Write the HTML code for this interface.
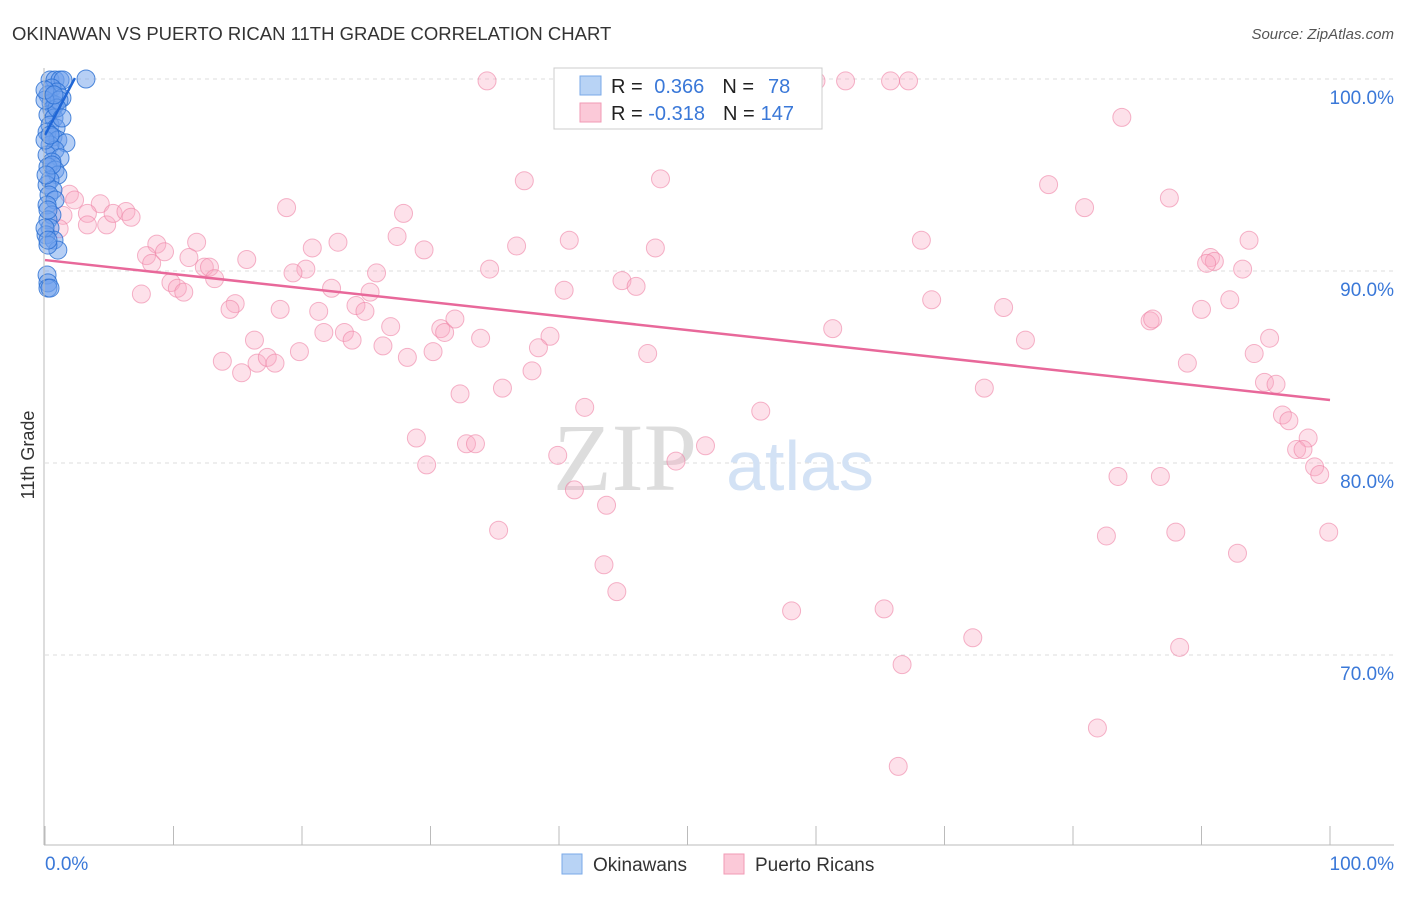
<!DOCTYPE html>
<html><head><meta charset="utf-8"><style>
body{margin:0;background:#fff;font-family:"Liberation Sans",sans-serif}
svg text{font-family:"Liberation Sans",sans-serif}
</style></head><body>
<svg id="c" width="1406" height="892">
<text x="12" y="40" font-size="18.5" fill="#333">OKINAWAN VS PUERTO RICAN 11TH GRADE CORRELATION CHART</text>
<text x="1394" y="39" font-size="15" fill="#555" text-anchor="end" font-style="italic">Source: ZipAtlas.com</text>
<text x="34" y="455" font-size="18" fill="#333" transform="rotate(-90 34 455)" text-anchor="middle">11th Grade</text>
<g id="grid"></g>
<g id="yt"></g>
<text x="625" y="490" font-size="96" fill="#ddd" text-anchor="middle" style="font-family:'Liberation Serif'">ZIP</text>
<text x="800" y="490" font-size="70" fill="#d3e2f5" text-anchor="middle">atlas</text>
<g id="pts"></g>
<g id="axes"></g>
<g>
<rect x="554" y="68" width="268" height="61" fill="#fff" stroke="#ccc"/>
<rect x="580" y="76" width="21" height="19" fill="#b8d3f5" stroke="#7aaae8"/>
<rect x="580" y="103" width="21" height="19" fill="#fbc9d8" stroke="#f29ab5"/>
<text x="611" y="93" font-size="20" fill="#222">R = <tspan fill="#3a78d8" dx="6">0.366</tspan><tspan dx="18" fill="#222">N =</tspan><tspan fill="#3a78d8" dx="14">78</tspan></text>
<text x="611" y="120" font-size="20" fill="#222">R = <tspan fill="#3a78d8">-0.318</tspan><tspan dx="18" fill="#222">N =</tspan><tspan fill="#3a78d8" dx="6">147</tspan></text>
</g>
<g>
<rect x="562" y="854" width="20" height="20" fill="#b8d3f5" stroke="#7aaae8"/>
<text x="593" y="871" font-size="19" fill="#333">Okinawans</text>
<rect x="724" y="854" width="20" height="20" fill="#fbc9d8" stroke="#f29ab5"/>
<text x="755" y="871" font-size="19" fill="#333">Puerto Ricans</text>
</g>
<text x="45" y="870" font-size="19" fill="#3a78d8">0.0%</text>
<text x="1394" y="870" font-size="19" fill="#3a78d8" text-anchor="end">100.0%</text>
</svg>
<script>
const yTicks=[100,90,80,70];
const yTickLabels=["100.0%","90.0%","80.0%","70.0%"];
const xTicks=[0,10,20,30,40,50,60,70,80,90,100];
const pinkX=[34.4,48.0,59.6,60.0,62.3,65.8,67.2,46.5,83.8,37.3,47.9,78.1,87.5,80.9,18.8,27.9,1.9,2.3,4.3,1.4,3.3,4.8,5.3,6.3,6.7,3.3,1.1,68.2,93.7,40.8,36.7,47.5,27.4,22.8,20.8,29.5,8.7,11.8,7.9,8.3,9.3,11.2,15.7,12.4,12.8,90.7,91.0,90.4,93.2,34.6,20.3,19.3,25.8,13.2,9.8,10.3,10.8,7.5,44.9,46.0,40.4,22.3,25.3,14.8,14.4,18.3,21.3,24.2,24.9,69.0,74.6,90.0,92.2,31.9,86.0,86.2,26.9,30.8,31.1,21.7,23.3,23.9,33.9,39.3,61.3,76.3,95.3,16.3,26.3,19.8,30.2,38.4,46.9,94.1,28.2,13.8,16.5,17.3,17.9,15.3,37.9,88.9,94.9,95.8,35.6,32.3,73.1,42.0,55.7,96.3,96.8,28.9,32.8,33.5,51.4,98.3,97.4,97.9,39.9,49.1,29.7,98.8,99.2,83.5,86.8,41.2,43.7,35.3,82.6,88.0,99.9,92.8,43.5,44.5,58.1,65.3,72.2,88.3,66.7,81.9,66.4];
const pinkY=[99.9,99.9,99.9,99.9,99.9,99.9,99.9,99.1,98.0,94.7,94.8,94.5,93.8,93.3,93.3,93.0,94.0,93.7,93.5,92.9,93.0,92.4,93.0,93.1,92.8,92.4,92.2,91.6,91.6,91.6,91.3,91.2,91.8,91.5,91.2,91.1,91.4,91.5,90.8,90.4,91.0,90.7,90.6,90.2,90.2,90.7,90.5,90.4,90.1,90.1,90.1,89.9,89.9,89.6,89.4,89.1,88.9,88.8,89.5,89.2,89.0,89.1,88.9,88.3,88.0,88.0,87.9,88.2,87.9,88.5,88.1,88.0,88.5,87.5,87.4,87.5,87.1,87.0,86.8,86.8,86.8,86.4,86.5,86.6,87.0,86.4,86.5,86.4,86.1,85.8,85.8,86.0,85.7,85.7,85.5,85.3,85.2,85.5,85.2,84.7,84.8,85.2,84.2,84.1,83.9,83.6,83.9,82.9,82.7,82.5,82.2,81.3,81.0,81.0,80.9,81.3,80.7,80.7,80.4,80.1,79.9,79.8,79.4,79.3,79.3,78.6,77.8,76.5,76.2,76.4,76.4,75.3,74.7,73.3,72.3,72.4,70.9,70.4,69.5,66.2,64.2];
const blueX=[0.39,0.78,1.17,1.4,3.19,0.54,0.93,0.23,1.32,0.47,0.78,1.09,0.54,0.23,0.7,0.39,0.86,0.16,0.62,1.0,1.63,0.39,0.78,0.16,1.17,0.54,0.23,0.78,1.0,0.39,0.16,0.62,0.31,0.78,0.16,0.54,0.23,0.39,0.08,0.7,1.0,0.23,0.16,0.23,0.23,0.39,0,0.23,0.54,0.93,0,0,0.08,0.39,0,1.32,0.7,0.23];
const blueY=[99.95,99.95,99.95,99.95,100,99.53,99.32,99.17,99.01,98.75,98.65,98.9,98.39,98.13,97.97,97.6,97.45,97.24,96.98,96.82,96.67,96.56,96.3,96.04,95.89,95.68,95.42,95.26,95.0,94.74,94.48,94.22,93.96,93.7,93.44,92.92,92.66,92.24,91.88,91.61,91.09,91.35,89.79,89.38,89.11,89.11,92.24,93.18,95.52,98.49,98.9,96.82,95.0,97.08,99.43,97.97,99.17,91.61];
const pinkTrend=[[0,90.57],[100,83.28]];
const blueTrend=[[0,97.08],[2.33,100.05]];
const NS="http://www.w3.org/2000/svg";
const X=v=>45+v*12.85, Y=v=>79+(100-v)*19.2;
function mk(t,a,p){const e=document.createElementNS(NS,t);for(const k in a)e.setAttribute(k,a[k]);p.appendChild(e);return e;}
const grid=document.getElementById('grid'),yt=document.getElementById('yt'),pts=document.getElementById('pts'),axes=document.getElementById('axes');
yTicks.forEach((v,i)=>{
 const l=mk('line',{x1:45,x2:1394,y1:Y(v),y2:Y(v),stroke:'#ddd','stroke-dasharray':'4,4'},grid);
 
 
 const t=mk('text',{x:1394,y:Y(v)+25,'font-size':19,fill:'#3a78d8','text-anchor':'end'},yt);
 t.textContent=yTickLabels[i];
 
 
});
pinkX.forEach((x,i)=>{
 const c=mk('circle',{cx:X(x),cy:Y(pinkY[i]),r:9,fill:'rgba(248,170,195,0.35)',stroke:'rgba(238,130,165,0.6)','stroke-width':1},pts);
 
 
});
blueX.forEach((x,i)=>{
 const c=mk('circle',{cx:X(x),cy:Y(blueY[i]),r:9,fill:'rgba(110,160,235,0.5)',stroke:'rgba(40,110,210,0.8)','stroke-width':1},pts);
 
 
});
const pl=mk('line',{x1:X(pinkTrend[0][0]),y1:Y(pinkTrend[0][1]),x2:X(pinkTrend[1][0]),y2:Y(pinkTrend[1][1]),stroke:'#e8689a','stroke-width':2.5},pts);


const bl=mk('line',{x1:X(blueTrend[0][0]),y1:Y(blueTrend[0][1]),x2:X(blueTrend[1][0]),y2:Y(blueTrend[1][1]),stroke:'#1f66d6','stroke-width':2.5},pts);


const ax=mk('line',{x1:44,x2:1394,y1:845,y2:845,stroke:'#bbb'},axes);


const ay=mk('line',{x1:44,x2:44,y1:68,y2:845,stroke:'#bbb'},axes);


xTicks.forEach(v=>{
 const t=mk('line',{x1:X(v),x2:X(v),y1:826,y2:845,stroke:'#bbb'},axes);
 
 
});
</script>
</body></html>
